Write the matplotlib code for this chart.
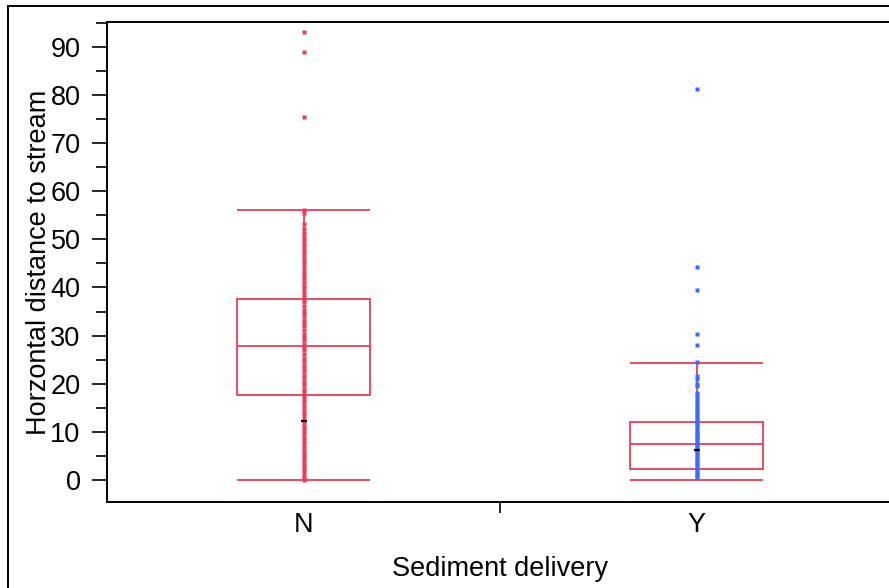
import matplotlib
matplotlib.use("Agg")
import matplotlib.pyplot as plt
from matplotlib.patches import Rectangle
from matplotlib.ticker import FixedLocator

plt.rcParams['font.family'] = ['Liberation Sans', 'DejaVu Sans']

categories = ["N", "Y"]
# box statistics: (whisker low, Q1, median, Q3, whisker high)
box_stats = {
    "N": (0.0, 17.7, 27.8, 37.6, 56.1),
    "Y": (0.0, 2.2, 7.5, 12.0, 24.4),
}
# black mean dashes
means = {"N": 12.3, "Y": 6.2}

n_points = [0.0, 0.3, 0.9, 1.6, 2.3, 2.9, 3.4, 4.1, 4.8, 5.4, 6.1, 6.9, 7.6, 8.2, 8.9,
            9.7, 10.4, 11.0, 11.8, 12.5, 13.3, 13.9, 14.6, 15.4, 16.1, 16.8, 17.4,
            18.2, 18.9, 19.7, 20.4, 21.1, 21.8, 22.6, 23.2, 23.9, 24.7, 25.4, 26.1,
            26.9, 27.5, 28.2, 29.0, 29.7, 30.4, 31.1, 31.9, 32.6, 33.3, 34.0, 34.6,
            35.4, 36.2, 36.9, 37.5, 38.3, 39.0, 39.8, 40.4, 41.2, 41.9, 42.6, 43.3,
            44.1, 44.8, 45.5, 46.2, 46.9, 47.6, 48.4, 49.1, 49.8, 50.4, 51.3, 52.2,
            53.1, 55.4, 56.1, 75.5, 89.0, 93.2]
y_points = [0.5, 0.8, 1.2, 1.7, 2.1, 2.6, 3.0, 3.5, 3.9, 4.4, 4.8, 5.3, 5.7, 6.2,
            6.6, 7.1, 7.5, 8.0, 8.4, 8.9, 9.3, 9.8, 10.2, 10.7, 11.1, 11.6, 12.0,
            12.5, 12.9, 13.4, 13.8, 14.3, 14.8, 15.3, 15.8, 16.4, 17.0, 17.6, 18.1,
            19.6, 20.0, 21.0, 21.5, 24.6, 28.0, 30.3, 39.4, 44.2, 81.2]
points = {"N": n_points, "Y": y_points}

red = "#ef3b55"
blue = "#3b6cf6"
point_colors = {"N": red, "Y": blue}

W, H = 889, 588
fig = plt.figure(figsize=(W / 100, H / 100), dpi=100)
# outer frame
fig.patches.append(Rectangle((8 / W, -0.1), 1.2, 1.1 - 5.5 / H, transform=fig.transFigure,
                             fill=False, edgecolor="black", linewidth=1.4))

ax = fig.add_axes([107 / W, (H - 502) / H, 786 / W, 480 / H])
positions = [0.5, 1.5]
half = 0.17

for cat, x in zip(categories, positions):
    lo, q1, med, q3, hi = box_stats[cat]
    ax.vlines(x, lo, q1, color=red, lw=1.3, zorder=2)
    ax.vlines(x, q3, hi, color=red, lw=1.3, zorder=2)
    ax.hlines([lo, hi], x - half, x + half, color=red, lw=1.3, zorder=2)
    ax.add_patch(Rectangle((x - half, q1), 2 * half, q3 - q1, fill=False,
                           edgecolor=red, lw=1.3, zorder=2))
    ax.hlines(med, x - half, x + half, color=red, lw=1.3, zorder=2)
    ax.plot([x] * len(points[cat]), points[cat], ls="none", marker="s", ms=3,
            mec="none", mfc=point_colors[cat], zorder=3)
    ax.plot([x], [means[cat]], ls="none", marker="_", ms=5, mew=1.6,
            color="black", zorder=4)

ax.set_xlim(0, 2)
ax.set_ylim(-4.6, 95.2)
ax.set_xticks(positions)
ax.set_xticklabels(categories)
ax.xaxis.set_minor_locator(FixedLocator([1.0]))
ax.tick_params(axis="x", which="major", length=0, pad=7, labelsize=19.5)
ax.tick_params(axis="x", which="minor", length=8, width=1.2)
ax.set_yticks(range(0, 91, 10))
ax.yaxis.set_minor_locator(FixedLocator(range(5, 96, 10)))
ax.tick_params(axis="y", which="major", length=11, width=1.2, pad=8, labelsize=19.5)
ax.tick_params(axis="y", which="minor", length=8, width=1.2)
ax.spines["right"].set_visible(False)
for s in ("left", "top", "bottom"):
    ax.spines[s].set_linewidth(1.4)
ax.set_ylabel("Horzontal distance to stream", fontsize=19.5, labelpad=-1)
ax.set_xlabel("Sediment delivery", fontsize=19.5, labelpad=13)

fig.savefig("out.png", dpi=100)
